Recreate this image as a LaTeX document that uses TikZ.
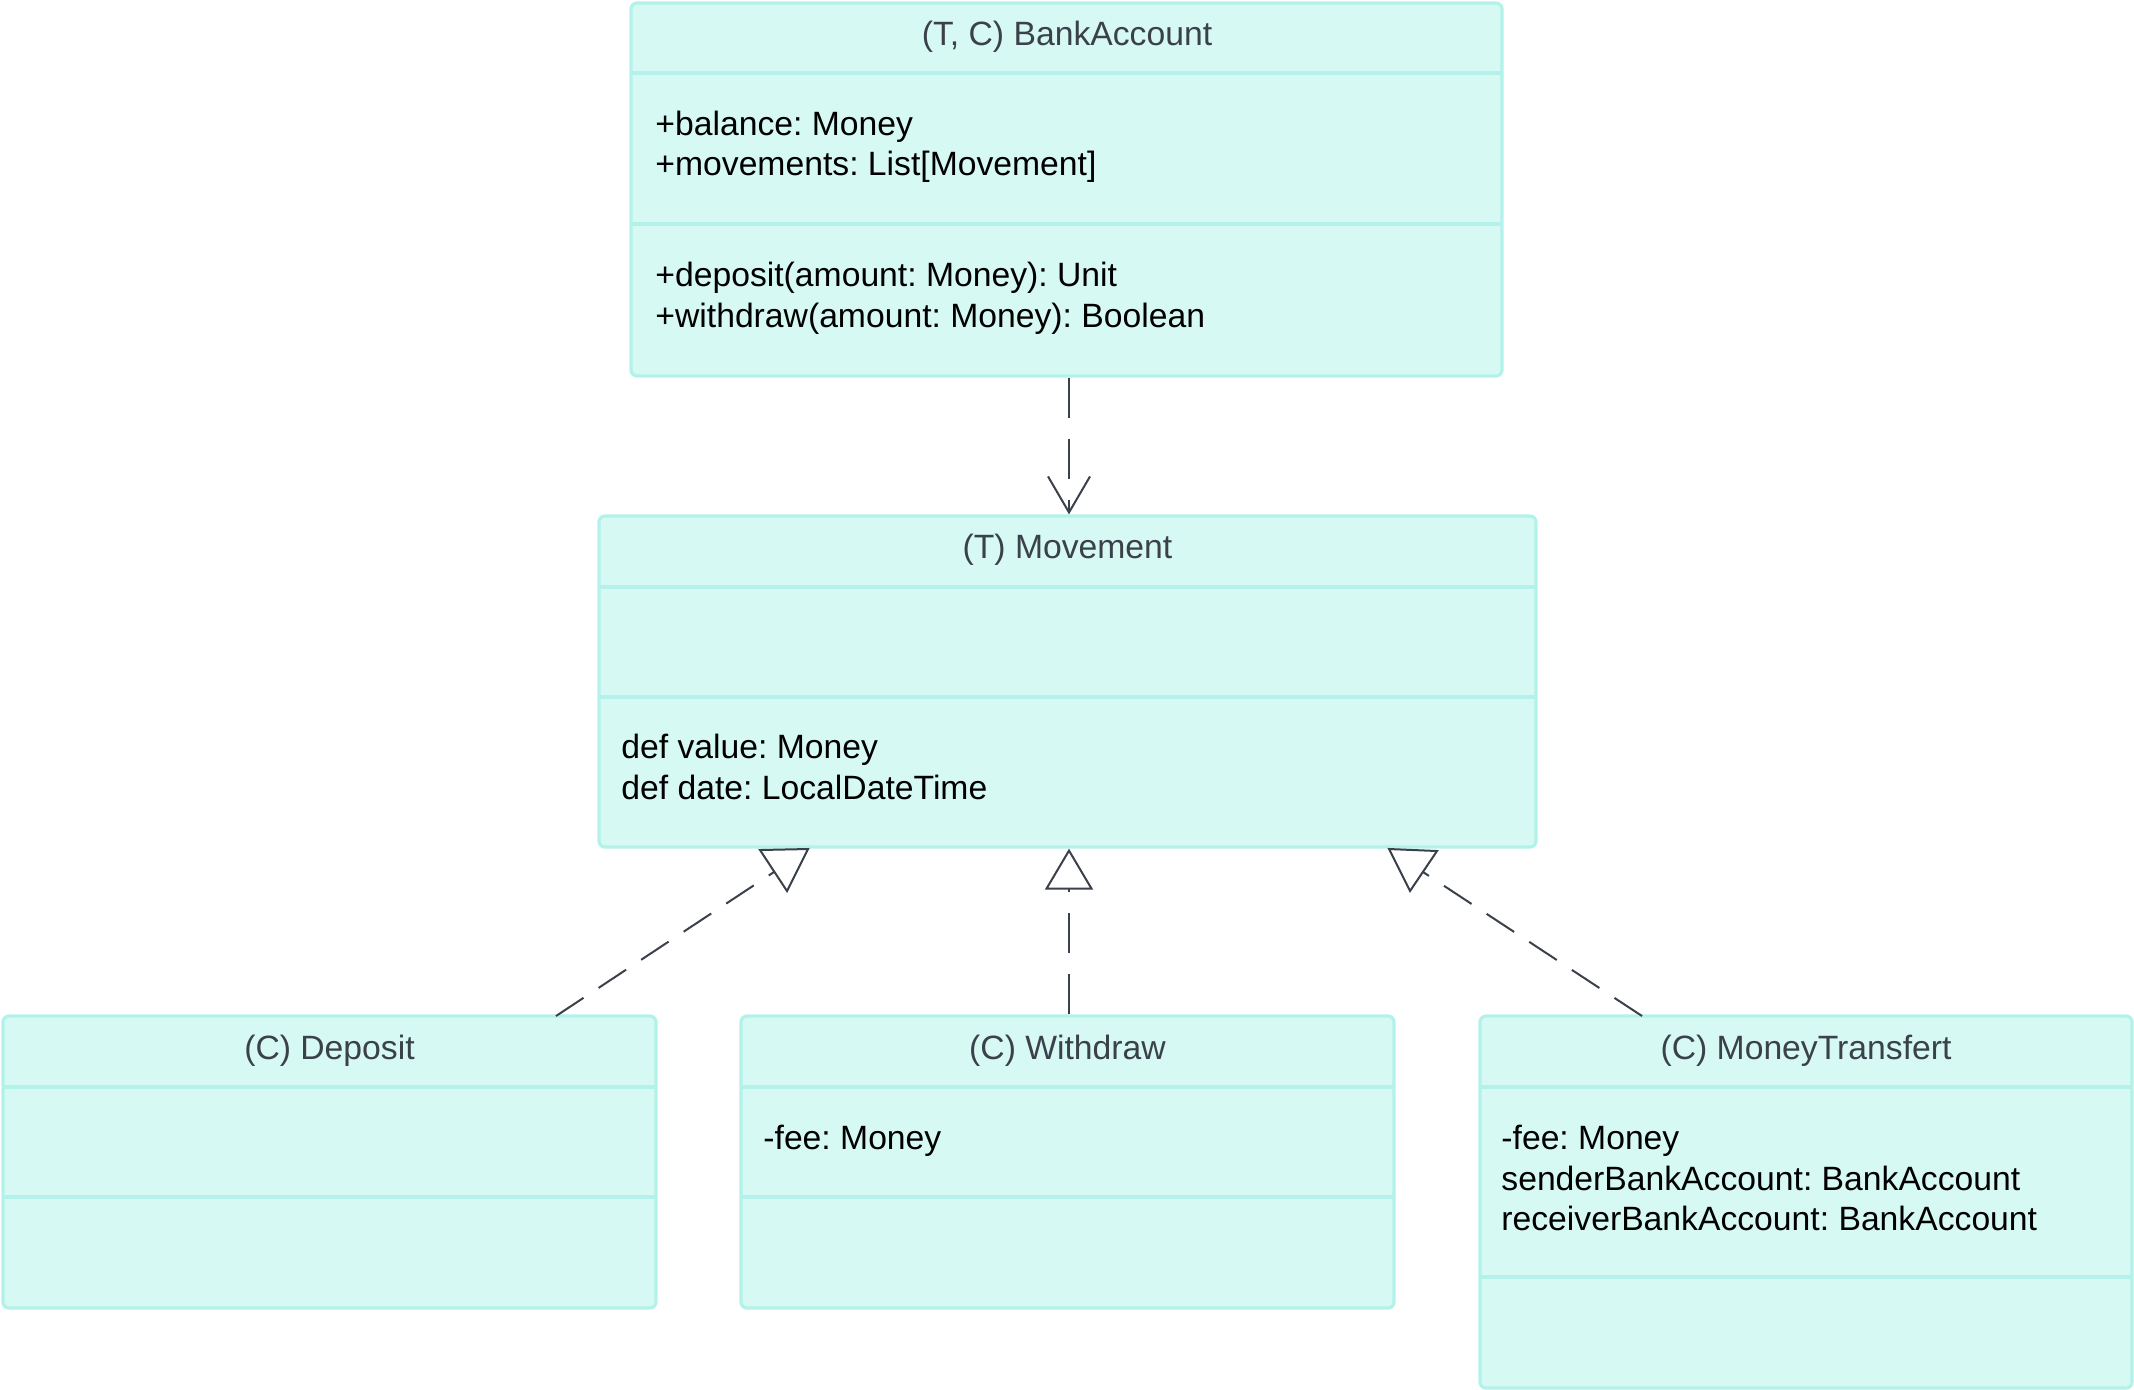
\documentclass[tikz,border=0pt]{standalone}
\usepackage{fontspec}
\setmainfont{Liberation Sans}
\usetikzlibrary{fit,arrows.meta}
\definecolor{boxfill}{HTML}{D6F9F3}
\definecolor{boxline}{HTML}{B3F2EA}
\definecolor{hdrtext}{HTML}{3A414A}
\definecolor{conn}{HTML}{3A414A}
\frenchspacing
\begin{document}
\begin{tikzpicture}[x=0.5pt,y=-0.5pt,
  umlbox/.style={draw=boxline, fill=boxfill, line width=1.6pt, rounded corners=3pt, inner sep=0pt},
  divider/.style={draw=boxline, line width=1.6pt},
  hdr/.style={anchor=base, inner sep=0pt, text=hdrtext, font=\fontsize{16.85}{20}\selectfont},
  attr/.style={anchor=base west, inner sep=0pt, text=black, font=\fontsize{16.85}{20}\selectfont},
  conndash/.style={draw=conn, line width=1pt, dash pattern=on 20pt off 10.5pt},
  conndiag/.style={draw=conn, line width=1pt, dash pattern=on 16.5pt off 9pt},
  tri/.style={draw=conn, fill=white, line width=1pt, line join=miter}
]
\useasboundingbox (0,0) rectangle (2134,1389);

% BankAccount
\node[umlbox, fit={(631,3) (1502,376)}] (ba) {};
\draw[divider] (631,73) -- (1502,73);
\draw[divider] (631,224) -- (1502,224);
\node[hdr] (ba-h) at (1067,45) {(T, C) BankAccount};
\node[attr] (ba-a1) at (655,135) {+balance: Money};
\node[attr] (ba-a2) at (655,175) {+movements: List[Movement]};
\node[attr] (ba-m1) at (655,286) {+deposit(amount: Money): Unit};
\node[attr] (ba-m2) at (655,327) {+withdraw(amount: Money): Boolean};

% Movement
\node[umlbox, fit={(599,516) (1536,847)}] (mv) {};
\draw[divider] (599,587) -- (1536,587);
\draw[divider] (599,697) -- (1536,697);
\node[hdr] (mv-h) at (1067.5,558) {(T) Movement};
\node[attr] (mv-m1) at (621,758) {def value: Money};
\node[attr] (mv-m2) at (621,799) {def date: LocalDateTime};

% Deposit
\node[umlbox, fit={(3,1016) (656,1308)}] (dep) {};
\draw[divider] (3,1087) -- (656,1087);
\draw[divider] (3,1197) -- (656,1197);
\node[hdr] (dep-h) at (329.5,1059) {(C) Deposit};

% Withdraw
\node[umlbox, fit={(741,1016) (1394,1308)}] (wd) {};
\draw[divider] (741,1087) -- (1394,1087);
\draw[divider] (741,1197) -- (1394,1197);
\node[hdr] (wd-h) at (1067.5,1059) {(C) Withdraw};
\node[attr] (wd-a1) at (763,1149) {-fee: Money};

% MoneyTransfert
\node[umlbox, fit={(1480,1016) (2132,1388)}] (mt) {};
\draw[divider] (1480,1087) -- (2132,1087);
\draw[divider] (1480,1277) -- (2132,1277);
\node[hdr] (mt-h) at (1806,1059) {(C) MoneyTransfert};
\node[attr] (mt-a1) at (1501,1149) {-fee: Money};
\node[attr] (mt-a2) at (1501,1190) {senderBankAccount: BankAccount};
\node[attr] (mt-a3) at (1501,1230) {receiverBankAccount: BankAccount};

% dependency BankAccount -> Movement
\coordinate (cx) at (1069,0);
\draw[conndash, -{Straight Barb[length=18pt,width=21pt]}] (ba.south -| cx) -- (mv.north -| cx);

% realization Withdraw -> Movement
\draw[conndash, -{Triangle[open,length=20.5pt,width=24pt,fill=white]}] (wd.north -| cx) -- (mv.south -| cx);

% realization Deposit -> Movement
\coordinate (dls) at (556,1016);
\coordinate (dle) at (774,872);
\draw[conndiag] (dls) -- (dle);
\draw[tri] (760,850) -- (808,849) -- (787,891) -- cycle;

% realization MoneyTransfert -> Movement
\coordinate (mls) at (1642,1016);
\coordinate (mle) at (1423,872);
\draw[conndiag] (mls) -- (mle);
\draw[tri] (1389,849) -- (1437,851) -- (1410,891) -- cycle;
\end{tikzpicture}
\end{document}
